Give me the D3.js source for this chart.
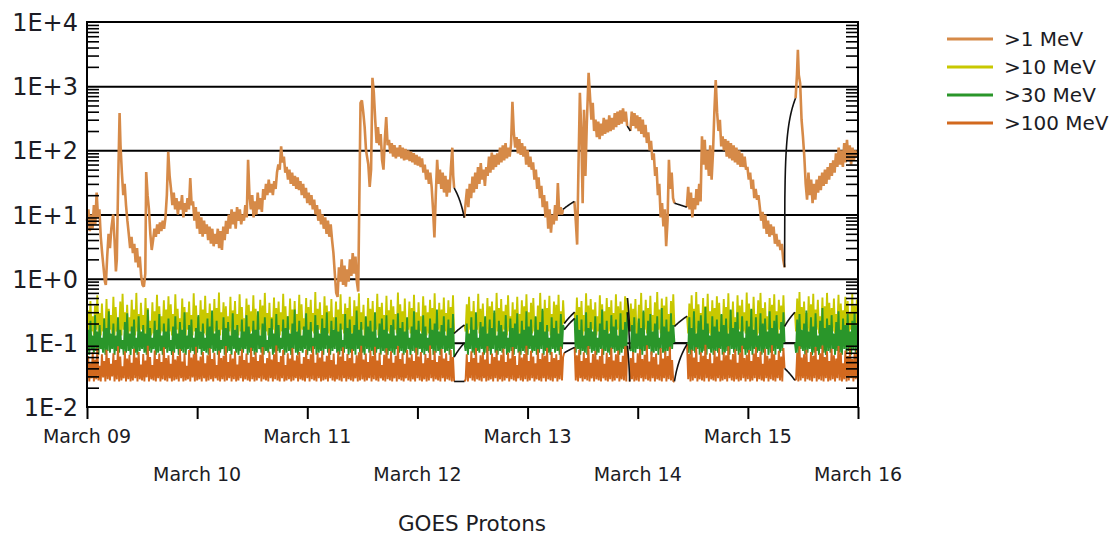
<!DOCTYPE html>
<html><head><meta charset="utf-8">
<script src="https://cdn.jsdelivr.net/npm/d3@7"></script>
<style>
body{margin:0;background:#fff}
text{font-family:"DejaVu Sans",sans-serif;fill:#1c1c24}
</style>
</head><body>
<svg id="chart" width="1115" height="537"></svg>
<script>
// ---------- DATA ----------
const dayLabels = ["March 09","March 10","March 11","March 12","March 13","March 14","March 15","March 16"];
const dayHours = [0,24,48,72,96,120,144,168];
const yTickValues = [1e-2,1e-1,1,10,100,1000,10000];
const yTickLabels = ["1E-2","1E-1","1E+0","1E+1","1E+2","1E+3","1E+4"];
const seriesNames = [">1 MeV",">10 MeV",">30 MeV",">100 MeV"];
const chartTitle = "GOES Protons";
const sampleStepHours = 0.25; // step of the >10, >30, >100 MeV samples

// >1 MeV : [hours since March 09 00:00, flux]; null = data gap
const p1MeV = [
[0,8],[0.3,12],[0.6,5.5],[0.9,10],[1.2,6],[1.5,14],[1.8,7],[2.1,22],[2.4,9],[2.7,12],[3.0,4.5],[3.3,2.5],[3.6,1.5],[3.9,0.9],[4.1,0.8],
[4.4,2.2],[4.7,5],[5.0,3],[5.3,6],[5.7,10],[6.0,4],[6.3,1.3],[6.5,2],[6.8,35],[7.1,380],[7.3,120],
[7.6,45],[7.9,20],[8.2,30],[8.5,14],[8.8,8],[9.1,5],[9.4,3],[9.7,4.5],[10.0,2.5],
[10.3,3.5],[10.6,1.8],[10.9,3],[11.2,1.5],[11.5,2.2],[11.8,1.1],[12.1,0.8],[12.4,0.75],[12.7,1.2],
[12.9,46],[13.2,20],[13.5,12],[13.8,5],[14.1,2.8],[14.4,4],
[14.7,6],[15.0,4.5],[15.3,7],[15.6,5],[15.9,7.5],[16.2,5.5],[16.5,8],[16.8,6],[17.1,9],
[17.4,20],[17.7,95],[18.0,40],[18.3,25],[18.6,14],[18.9,22],[19.2,12],[19.5,18],[19.8,10],
[20.1,16],[20.4,12],[20.7,20],[21.0,9],[21.3,15],[21.6,11],[21.9,18],[22.2,12],[22.5,37],[22.8,14],
[23.1,16],[23.4,8],[23.7,13],[24.0,6],[24.3,11],[24.6,5],[24.9,9],[25.2,4.5],[25.5,8],[25.8,5],
[26.1,7],[26.4,4],[26.7,6.5],[27.0,3.5],[27.3,6],[27.6,3.2],[27.9,5],[28.2,3.5],[28.5,6],
[28.8,3],[29.1,5.5],[29.4,2.8],[29.7,6.5],[30.0,4],
[30.3,8],[30.6,5],[30.9,10],[31.2,6],[31.5,12],[31.8,7],[32.1,11],[32.4,6],[32.7,13],[33.0,8],
[33.3,12],[33.6,7],[33.9,10],[34.2,8],[34.5,14],[34.8,9],[35.1,71],[35.4,20],
[35.7,12],[36.0,20],[36.3,9],[36.6,16],[36.9,10],[37.2,22],[37.5,12],[37.8,18],[38.1,11],
[38.4,25],[38.7,17],[39.0,30],[39.3,20],[39.6,35],[39.9,22],[40.2,30],[40.5,20],[40.8,33],[41.1,25],
[41.4,45],[41.7,60],[42.0,50],[42.3,115],[42.6,65],[42.9,80],
[43.2,45],[43.5,55],[43.8,35],[44.1,50],[44.4,30],[44.7,45],[45.0,28],[45.3,40],[45.6,25],[45.9,38],[46.2,24],
[46.5,33],[46.8,20],[47.1,30],[47.4,18],[47.7,26],[48.0,15],[48.3,22],[48.6,14],[48.9,20],
[49.2,12],[49.5,17],[49.8,10],[50.1,14],[50.4,8],[50.7,12],[51.0,7],[51.3,10],[51.6,6],[51.9,9],
[52.2,5],[52.5,8],[52.8,4.5],[53.1,7],[53.4,4],
[53.7,2.5],[54.0,1.2],[54.3,0.6],[54.6,0.52],
[54.9,1.5],[55.2,0.9],[55.5,2],[55.8,0.8],[56.1,1.6],[56.4,0.75],
[56.7,1.4],[57.0,0.9],[57.3,2],[57.6,1.1],[57.9,2.5],[58.2,1.2],[58.5,2.2],[58.8,0.9],[59.1,0.63],
[59.6,550],[59.9,600],[60.2,390],[60.5,230],[60.8,100],[61.3,60],[61.6,27],[61.9,50],
[62.2,1350],[62.5,790],[62.8,300],[63.1,130],
[63.4,230],[63.7,120],[64.0,180],[64.3,70],[64.6,50],[64.9,150],[65.2,330],[65.5,120],
[65.8,146],[66.1,90],[66.4,130],[66.7,80],[67.0,120],[67.3,75],[67.6,110],[67.9,80],
[68.2,120],[68.5,75],[68.8,110],[69.1,70],[69.4,105],[69.7,72],[70.0,100],[70.3,68],[70.6,95],[70.9,65],[71.2,90],[71.5,60],[71.8,85],[72.1,58],[72.4,80],[72.7,55],[73.0,75],
[73.3,45],[73.6,60],[73.9,35],[74.2,50],[74.5,30],[74.8,45],[75.1,27],
[75.4,12],[75.7,4.4],[76.0,20],[76.3,71],[76.6,30],
[76.9,50],[77.2,25],[77.5,45],[77.8,22],[78.1,40],[78.4,19],[78.7,35],[79.0,22],[79.3,55],
[79.6,110],[79.8,40],[80.0,26],
[81,null],
[82.2,8.9],[82.5,15],[82.8,25],[83.1,13],[83.4,30],[83.7,18],[84.0,39],
[84.3,22],[84.6,45],[84.9,25],[85.2,55],[85.5,30],[85.8,63],[86.1,35],[86.4,50],[86.7,28],
[87.0,55],[87.3,40],[87.6,80],[87.9,45],[88.2,92],[88.5,50],[88.8,85],[89.1,55],[89.4,90],[89.7,60],
[90.0,110],[90.3,65],[90.6,120],[90.9,70],[91.2,130],[91.5,75],[91.8,110],[92.1,80],[92.4,125],
[92.7,570],
[93.0,190],[93.3,110],[93.6,160],[93.9,90],[94.2,150],[94.5,85],[94.8,130],
[95.1,80],[95.4,115],[95.7,60],[96.0,100],[96.3,55],[96.6,80],
[96.9,50],[97.2,65],[97.5,35],[97.8,50],[98.1,25],[98.4,38],[98.7,18],[99.0,28],[99.3,13],
[99.6,20],[99.9,9],[100.2,16],[100.5,6],[100.8,12],[101.1,5.2],[101.4,10],
[101.7,7],[102.0,14],[102.3,8],[102.6,31],[102.9,10],
[103.2,13],[103.5,10],[103.7,12],
[105,null],
[106.2,16],[106.5,8],[106.8,3.4],
[107.1,60],[107.4,790],[107.7,200],[108.0,15],[108.3,430],[108.6,40],[108.9,250],
[109.3,1620],[109.6,700],
[109.9,300],[110.2,550],[110.5,200],[110.8,300],[111.1,160],[111.4,280],[111.7,150],[112.0,260],[112.3,170],[112.6,320],[112.9,180],
[113.2,300],[113.5,190],[113.8,350],[114.1,200],[114.4,320],[114.7,210],[115.0,380],[115.3,230],[115.6,400],[115.9,250],[116.2,420],[116.5,260],[116.8,450],[117.1,280],[117.4,400],[117.7,240],
[118,null],
[118.4,200],[118.7,400],[119.0,240],[119.3,380],[119.6,220],[119.9,350],[120.2,200],
[120.5,330],[120.8,180],[121.1,300],[121.4,160],[121.7,250],[122.0,130],[122.3,190],[122.6,100],[122.9,140],[123.2,71],
[123.5,90],[123.8,40],[124.1,55],[124.4,20],[124.7,30],[125.0,9],[125.3,15],
[125.6,6.5],[125.9,12],[126.2,3.2],[126.5,8],
[126.8,71],[127.1,25],[127.4,45],[127.7,18],[128.0,15],
[129,null],
[130.7,13],[131.0,27],[131.3,12],[131.6,22],[131.9,9],[132.2,18],
[132.5,12],[132.8,25],[133.1,14],[133.4,30],[133.7,16],[134.0,165],
[134.3,60],[134.6,146],[134.9,50],[135.2,100],[135.5,40],[135.8,120],[136.1,35],[136.4,90],
[136.7,400],[137.0,1250],
[137.3,390],[137.6,200],[137.9,300],[138.2,115],
[138.5,165],[138.8,100],[139.1,150],[139.4,80],[139.7,140],[140.0,75],[140.3,130],[140.6,70],[140.9,120],[141.2,65],[141.5,110],[141.8,60],[142.1,100],[142.4,55],[142.7,90],[143.0,55],[143.3,80],[143.6,50],
[143.9,55],[144.2,35],[144.5,45],[144.8,25],[145.1,35],[145.4,18],[145.7,25],[146.0,17],[146.3,20],
[146.6,13],[146.9,8],[147.2,11],[147.5,6],[147.8,10],[148.1,5],[148.4,8],[148.7,4.5],[149.0,7],[149.3,4.8],
[149.6,6.5],[149.9,3.5],[150.2,5],[150.5,3.2],[150.8,4],
[151.1,2.8],[151.4,3.5],[151.7,2],[152.0,1.5],
[153,null],
[154.4,650],[154.7,1500],[154.9,3700],[155.1,1500],
[155.4,1100],[155.7,300],[156.0,165],
[156.3,80],[156.6,30],[156.9,17],
[157.2,45],[157.5,20],[157.8,35],[158.1,15],[158.4,30],[158.7,17],[159.0,35],
[159.3,22],[159.6,40],[159.9,24],[160.2,45],[160.5,28],[160.8,50],[161.1,30],[161.4,55],[161.7,35],[162.0,63],[162.3,40],
[162.6,70],[162.9,45],[163.2,90],[163.5,55],[163.8,110],[164.1,60],[164.4,100],[164.7,55],[165.0,130],[165.3,65],[165.6,146],[165.9,70],[166.2,120],[166.5,60],[166.8,110],[167.1,70],[167.4,100],[167.7,80],[168.0,92]
];

// >10 MeV, one value every 15 minutes from March 09 00:00 (null = gap)
const p10MeV = [
.14,.32,.13,.45,.15,.26,.13,.38,.16,.55,.14,.29,.13,.41,.15,.24,.14,.48,.13,.34,.16,.27,.14,.52,
.13,.36,.15,.23,.14,.44,.13,.58,.16,.3,.14,.39,.13,.25,.15,.47,.14,.33,.13,.6,.15,.28,.14,.42,
.16,.27,.13,.5,.14,.35,.15,.22,.13,.43,.14,.31,.16,.56,.13,.37,.14,.26,.15,.46,.13,.33,.14,.53,
.15,.4,.13,.28,.14,.57,.16,.34,.13,.24,.15,.49,.14,.36,.13,.3,.16,.44,.14,.27,.13,.59,.15,.38,
.14,.25,.13,.46,.15,.33,.14,.54,.13,.29,.16,.41,.14,.23,.13,.48,.15,.35,.14,.61,.13,.3,.16,.43,
.13,.37,.14,.26,.15,.52,.13,.32,.16,.45,.14,.28,.13,.57,.15,.36,.14,.24,.13,.49,.16,.39,.14,.31,
.15,.55,.13,.34,.14,.27,.16,.47,.13,.38,.14,.6,.15,.29,.13,.42,.14,.25,.16,.51,.13,.35,.14,.44,
.13,.3,.15,.58,.14,.37,.13,.26,.16,.49,.14,.33,.13,.45,.15,.28,.14,.56,.13,.4,.16,.24,.14,.5,
.14,.36,.13,.47,.15,.29,.14,.62,.13,.34,.16,.43,.14,.27,.13,.53,.15,.38,.14,.31,.13,.48,.16,.25,
.15,.44,.14,.33,.13,.57,.16,.28,.14,.41,.13,.35,.15,.52,.14,.26,.13,.46,.16,.37,.14,.59,.13,.3,
.16,.39,.13,.25,.14,.5,.15,.34,.13,.45,.14,.29,.16,.58,.13,.36,.15,.42,.14,.27,.13,.54,.15,.32,
.14,.47,.13,.37,.16,.28,.14,.61,.13,.4,.15,.31,.14,.49,.13,.24,.16,.44,.14,.35,.13,.56,.15,.3,
.13,.43,.15,.26,.14,.53,.16,.38,.13,.3,.14,.47,.15,.35,.13,.59,.14,.28,.16,.42,.13,.33,.14,.51,
.15,.29,.13,.46,.14,.36,.16,.55,.14,null,null,null,null,null,null,null,null,.19,.15,.4,.13,.52,.16,.31,
.14,.45,.13,.27,.16,.58,.14,.34,.13,.41,.15,.24,.14,.5,.13,.37,.16,.44,.14,.29,.13,.6,.15,.35,
.13,.48,.14,.31,.16,.39,.13,.55,.15,.26,.14,.43,.13,.33,.16,.52,.14,.28,.13,.46,.15,.37,.14,.57,
.16,.3,.13,.42,.14,.5,.15,.25,.13,.38,.14,.6,.16,.32,.13,.47,.14,.35,.15,.54,.13,.28,.14,.44,
.15,.39,.13,.56,.14,.31,.16,.46,.2,null,null,null,null,null,null,null,null,.3,.14,.51,.13,.36,.16,.45,
.13,.27,.15,.59,.14,.38,.13,.48,.16,.33,.14,.43,.13,.26,.15,.55,.14,.4,.13,.31,.16,.5,.14,.36,
.15,.46,.13,.29,.14,.57,.16,.37,.13,.44,.14,.32,.15,.53,.13,.5,null,.15,.41,.14,.34,.16,.48,.13,
.14,.39,.15,.6,.13,.3,.16,.47,.14,.35,.13,.54,.15,.27,.14,.43,.13,.62,.16,.33,.14,.49,.13,.38,
.15,.52,.14,.28,.13,.45,.16,.57,.18,null,null,null,null,null,null,null,null,null,null,.26,.14,.41,.13,.55,
.16,.34,.14,.62,.13,.4,.15,.29,.14,.5,.13,.37,.16,.58,.14,.31,.13,.46,.15,.35,.14,.53,.13,.42,
.15,.27,.14,.48,.16,.36,.13,.59,.14,.32,.15,.44,.13,.25,.14,.55,.16,.38,.13,.47,.15,.3,.14,.61,
.13,.41,.15,.33,.14,.52,.16,.28,.13,.46,.14,.6,.15,.35,.13,.43,.14,.26,.16,.5,.13,.39,.15,.57,
.14,.31,.13,.47,.16,.38,.14,.55,.18,null,null,null,null,null,null,null,null,.3,.15,.49,.14,.62,.13,.36,
.16,.44,.14,.29,.13,.53,.15,.4,.14,.58,.13,.33,.16,.47,.14,.26,.15,.51,.13,.37,.14,.6,.16,.42,
.13,.35,.15,.49,.14,.28,.16,.56,.13,.41,.14,.32,.15,.52,.13,.45,.14,.3,.16,.58,.13,.38,.15,.47,
.32
];

// >30 MeV, one value every 15 minutes
const p30MeV = [
.07,.16,.065,.22,.08,.13,.07,.27,.075,.15,.065,.19,.08,.12,.07,.24,.065,.17,.075,.31,.07,.14,.08,.2,
.065,.13,.075,.25,.07,.16,.08,.11,.065,.21,.07,.29,.075,.14,.065,.18,.08,.23,.07,.12,.065,.26,.075,.15,
.08,.19,.07,.14,.065,.33,.075,.17,.07,.12,.08,.22,.065,.16,.07,.28,.075,.13,.065,.2,.08,.15,.07,.24,
.075,.11,.065,.18,.07,.26,.08,.14,.065,.21,.075,.16,.07,.3,.065,.13,.08,.19,.07,.23,.075,.12,.065,.17,
.07,.27,.08,.15,.065,.2,.075,.12,.07,.24,.065,.18,.08,.32,.07,.14,.075,.22,.065,.16,.07,.11,.08,.25,
.065,.17,.07,.21,.075,.13,.065,.29,.08,.16,.07,.19,.065,.12,.075,.23,.07,.15,.08,.27,.065,.18,.07,.14,
.075,.22,.065,.16,.07,.31,.08,.13,.07,.2,.065,.25,.075,.11,.07,.17,.08,.24,.065,.14,.07,.28,.075,.19,
.07,.12,.08,.23,.065,.17,.07,.26,.075,.14,.065,.2,.08,.33,.07,.15,.065,.22,.075,.13,.07,.18,.08,.29,
.065,.16,.075,.21,.07,.12,.08,.27,.065,.19,.07,.14,.075,.24,.065,.17,.08,.3,.07,.13,.065,.22,.075,.16,
.08,.25,.07,.15,.065,.2,.075,.11,.07,.28,.08,.17,.065,.23,.07,.14,.075,.19,.065,.32,.08,.16,.07,.21,
.07,.13,.065,.26,.08,.18,.07,.22,.075,.15,.065,.3,.07,.12,.08,.2,.065,.24,.075,.16,.07,.27,.065,.14,
.075,.19,.07,.23,.065,.13,.08,.29,.07,.17,.075,.21,.065,.15,.07,.25,.08,.12,.065,.18,.075,.31,.07,.16,
.065,.22,.08,.14,.07,.27,.065,.18,.075,.12,.07,.24,.08,.16,.065,.2,.07,.33,.075,.15,.065,.19,.08,.26,
.07,.13,.075,.23,.065,.17,.08,.28,.06,null,null,null,null,null,null,null,null,.1,.075,.2,.065,.14,.08,.25,
.07,.16,.065,.3,.075,.12,.07,.21,.08,.18,.065,.26,.07,.14,.075,.23,.065,.17,.08,.32,.07,.13,.065,.22,
.075,.19,.07,.15,.08,.27,.065,.12,.07,.24,.075,.17,.065,.2,.08,.29,.07,.14,.065,.22,.075,.16,.07,.31,
.065,.18,.08,.23,.07,.13,.075,.26,.065,.16,.07,.21,.08,.34,.065,.15,.075,.19,.07,.12,.065,.25,.08,.17,
.07,.22,.075,.14,.065,.28,.08,.19,.16,null,null,null,null,null,null,null,null,.24,.07,.27,.08,.16,.065,.23,
.075,.13,.07,.3,.065,.17,.08,.21,.07,.15,.075,.26,.065,.12,.07,.2,.08,.33,.065,.16,.075,.22,.07,.14,
.065,.27,.08,.18,.07,.23,.075,.13,.065,.29,.07,.16,.08,.21,.065,.3,null,.08,.075,.19,.065,.25,.07,.14,
.08,.24,.07,.17,.065,.32,.075,.13,.07,.22,.08,.28,.065,.15,.07,.2,.075,.26,.065,.12,.08,.35,.07,.18,
.065,.23,.075,.15,.07,.29,.08,.19,.1,null,null,null,null,null,null,null,null,null,null,.1,.07,.25,.065,.17,
.075,.31,.07,.14,.08,.22,.065,.27,.07,.16,.075,.36,.065,.2,.08,.13,.07,.26,.065,.18,.075,.23,.07,.15,
.08,.28,.065,.19,.07,.24,.075,.14,.065,.33,.08,.17,.07,.21,.075,.3,.065,.15,.07,.26,.08,.12,.065,.22,
.07,.18,.075,.34,.065,.16,.08,.25,.07,.13,.075,.29,.065,.2,.07,.24,.08,.15,.065,.31,.07,.17,.075,.22,
.065,.27,.08,.14,.07,.21,.075,.3,.1,null,null,null,null,null,null,null,null,.1,.07,.23,.065,.28,.08,.16,
.075,.2,.065,.32,.07,.15,.08,.25,.065,.18,.07,.29,.075,.13,.065,.22,.08,.35,.07,.17,.065,.24,.075,.19,
.07,.27,.08,.14,.065,.21,.075,.31,.07,.16,.065,.24,.08,.19,.07,.28,.075,.15,.065,.22,.08,.3,.07,.18,
.2
];

// >100 MeV, one value every 15 minutes
const p100MeV = [
.026,.062,.025,.048,.028,.071,.025,.055,.027,.083,.026,.044,.025,.066,.029,.052,.025,.078,.027,.058,.026,.047,.03,.069,
.025,.054,.027,.088,.025,.061,.026,.043,.028,.074,.025,.057,.027,.065,.025,.049,.026,.081,.028,.059,.025,.072,.027,.046,
.026,.067,.025,.053,.029,.09,.025,.06,.027,.045,.026,.076,.025,.056,.028,.068,.025,.05,.027,.085,.026,.058,.025,.064,
.028,.047,.025,.073,.026,.055,.027,.062,.025,.08,.028,.051,.025,.069,.026,.044,.027,.077,.025,.059,.029,.066,.025,.087,
.026,.053,.027,.061,.025,.072,.028,.048,.025,.064,.026,.082,.027,.056,.025,.07,.028,.045,.026,.075,.025,.058,.027,.063,
.025,.089,.026,.05,.028,.067,.025,.057,.027,.074,.025,.046,.026,.063,.028,.079,.025,.054,.027,.068,.026,.049,.025,.084,
.027,.06,.025,.071,.026,.052,.028,.065,.025,.086,.027,.048,.026,.058,.025,.073,.028,.055,.025,.066,.027,.091,.026,.05,
.025,.062,.028,.077,.025,.045,.026,.069,.027,.057,.025,.083,.026,.053,.028,.064,.025,.072,.027,.047,.026,.06,.025,.078,
.028,.056,.025,.066,.027,.088,.026,.049,.025,.07,.028,.059,.025,.075,.026,.051,.027,.063,.025,.081,.028,.054,.026,.068,
.025,.046,.027,.073,.026,.061,.025,.085,.028,.052,.025,.067,.027,.058,.026,.079,.025,.048,.028,.064,.025,.071,.026,.09,
.027,.055,.025,.068,.026,.05,.028,.076,.025,.062,.027,.087,.026,.053,.025,.07,.028,.045,.026,.065,.025,.082,.027,.057,
.026,.074,.025,.049,.028,.063,.025,.089,.027,.056,.026,.069,.025,.047,.028,.078,.026,.059,.025,.066,.027,.052,.025,.084,
.028,.061,.026,.072,.025,.048,.027,.067,.025,.058,.026,.091,.028,.054,.025,.075,.027,.05,.026,.063,.025,.08,.028,.057,
.025,.069,.027,.052,.026,.077,.025,.06,.025,null,null,null,null,null,null,null,null,.025,.027,.066,.025,.05,.028,.074,
.026,.058,.025,.083,.027,.049,.026,.064,.025,.071,.028,.055,.025,.088,.026,.047,.027,.068,.025,.06,.028,.076,.025,.053,
.027,.065,.025,.081,.026,.05,.028,.07,.025,.057,.027,.086,.026,.062,.025,.045,.028,.073,.026,.059,.025,.067,.027,.09,
.025,.052,.026,.075,.028,.061,.025,.048,.027,.079,.026,.056,.025,.069,.028,.063,.025,.084,.027,.05,.026,.072,.025,.058,
.028,.066,.025,.054,.027,.087,.026,.06,.07,null,null,null,null,null,null,null,null,.085,.026,.064,.025,.078,.028,.052,
.025,.071,.027,.058,.026,.089,.025,.049,.028,.067,.025,.075,.027,.055,.026,.062,.025,.081,.028,.047,.026,.07,.025,.06,
.027,.084,.025,.053,.026,.066,.028,.076,.025,.05,.027,.063,.026,.088,.025,.09,null,.025,.058,.027,.072,.025,.049,.026,
.069,.025,.079,.028,.056,.025,.065,.027,.092,.026,.051,.025,.073,.028,.06,.025,.068,.027,.046,.026,.083,.025,.057,.028,
.074,.025,.062,.027,.087,.026,.054,.025,.025,null,null,null,null,null,null,null,null,null,null,.095,.027,.067,.025,.078,
.026,.059,.028,.085,.025,.05,.027,.071,.026,.063,.025,.093,.028,.056,.025,.069,.027,.048,.026,.076,.025,.061,.028,.082,
.025,.053,.026,.072,.027,.064,.025,.088,.028,.055,.026,.067,.025,.079,.027,.049,.025,.07,.026,.09,.028,.058,.025,.065,
.027,.077,.025,.052,.026,.068,.028,.085,.025,.06,.027,.073,.026,.047,.025,.081,.028,.063,.025,.057,.027,.092,.026,.066,
.025,.054,.028,.075,.026,.061,.025,.083,.04,null,null,null,null,null,null,null,null,.026,.027,.07,.025,.088,.026,.059,
.028,.066,.025,.078,.027,.05,.026,.072,.025,.063,.028,.086,.025,.055,.027,.069,.026,.091,.025,.06,.028,.074,.025,.052,
.026,.081,.027,.064,.025,.057,.028,.089,.026,.07,.025,.048,.027,.076,.025,.062,.026,.084,.028,.056,.025,.067,.027,.079,
.025
];

// ---------- STYLE ----------
const seriesColors = ["#d68a48","#c8c800","#2a962a","#d2691e"];
const gapColor = "#111";

// ---------- CHART ----------
const svg = d3.select("#chart");
const m = {left: 87, right: 858, top: 22, bottom: 407};
const x = d3.scaleLinear().domain([0,168]).range([m.left, m.right]);
const y = d3.scaleLog().domain([1e-2,1e4]).range([m.bottom, m.top]);

// gridlines
svg.append("g").attr("transform",`translate(${m.left},0)`)
  .call(d3.axisLeft(y).tickValues([1e-1,1,10,100,1000]).tickSize(-(m.right-m.left)).tickFormat(""))
  .call(g => g.select(".domain").remove())
  .call(g => g.selectAll("line").attr("stroke","#000").attr("stroke-width",2));

// series
const noise = [p10MeV, p30MeV, p100MeV].map(arr => arr.map((v,i) => [i*sampleStepHours, v]));
const allSeries = [p1MeV, ...noise];
const line = d3.line().defined(d => d[1] != null).x(d => x(d[0])).y(d => y(d[1]));
const gapLine = d3.line().x(d => x(d[0])).y(d => y(d[1]));

allSeries.forEach((pts, si) => {
  svg.append("path").datum(pts).attr("d", line)
    .attr("fill","none").attr("stroke", seriesColors[si])
    .attr("stroke-width", si === 0 ? 2.6 : 1.9).attr("stroke-linejoin","bevel");
});
// gap connectors (straight in linear value space, so curved on a log axis)
allSeries.forEach(pts => {
  for (let i = 1; i < pts.length; i++) {
    if (pts[i][1] == null && pts[i-1][1] != null) {
      let j = i; while (j < pts.length && pts[j][1] == null) j++;
      if (j >= pts.length) break;
      const a = pts[i-1], b = pts[j];
      const seg = d3.range(0, 41).map(k => {
        const t = k/40; return [a[0] + (b[0]-a[0])*t, a[1] + (b[1]-a[1])*t];
      });
      svg.append("path").datum(seg).attr("d", gapLine)
        .attr("fill","none").attr("stroke", gapColor).attr("stroke-width", 1.6);
    }
  }
});

// minor ticks left & right
const minor = [];
for (let e = -2; e < 4; e++) for (let k = 2; k < 10; k++) minor.push(k * Math.pow(10, e));
svg.append("g").attr("transform",`translate(${m.left},0)`)
  .call(d3.axisRight(y).tickValues(minor).tickSize(12).tickFormat(""))
  .call(g => g.select(".domain").remove())
  .call(g => g.selectAll("line").attr("stroke","#000").attr("stroke-width",1.6));
svg.append("g").attr("transform",`translate(${m.right},0)`)
  .call(d3.axisLeft(y).tickValues(minor).tickSize(12).tickFormat(""))
  .call(g => g.select(".domain").remove())
  .call(g => g.selectAll("line").attr("stroke","#000").attr("stroke-width",1.6));

// y labels
svg.append("g").attr("transform",`translate(${m.left},0)`)
  .call(d3.axisLeft(y).tickValues(yTickValues).tickSize(0).tickPadding(9).tickFormat((d,i) => yTickLabels[i]))
  .call(g => g.select(".domain").remove())
  .call(g => g.selectAll("text").attr("font-size",24).attr("font-family","DejaVu Sans").attr("fill","#1c1c24").attr("dy","0.36em"));

// x axis ticks
svg.append("g").attr("transform",`translate(0,${m.bottom})`)
  .call(d3.axisBottom(x).tickValues(dayHours).tickSize(12).tickFormat(""))
  .call(g => g.select(".domain").remove())
  .call(g => g.selectAll("line").attr("stroke","#000").attr("stroke-width",2));
svg.append("g").selectAll("text").data(dayLabels).join("text")
  .attr("x", (d,i) => x(dayHours[i]))
  .attr("y", (d,i) => i % 2 === 0 ? 443 : 481)
  .attr("text-anchor","middle").attr("font-size",19).text(d => d);

// frame
svg.append("rect").attr("x",m.left).attr("y",m.top)
  .attr("width",m.right-m.left).attr("height",m.bottom-m.top)
  .attr("fill","none").attr("stroke","#000").attr("stroke-width",2);

// title
svg.append("text").attr("x",472).attr("y",531).attr("text-anchor","middle")
  .attr("font-size",21.5).text(chartTitle);

// legend
const lg = svg.append("g");
seriesNames.forEach((name, i) => {
  const yy = 39 + i*28;
  lg.append("line").attr("x1",947).attr("x2",993).attr("y1",yy).attr("y2",yy)
    .attr("stroke",seriesColors[i]).attr("stroke-width",3);
  lg.append("text").attr("x",1004).attr("y",yy).attr("dy","0.36em")
    .attr("font-size",20).text(name);
});
</script>
</body></html>
